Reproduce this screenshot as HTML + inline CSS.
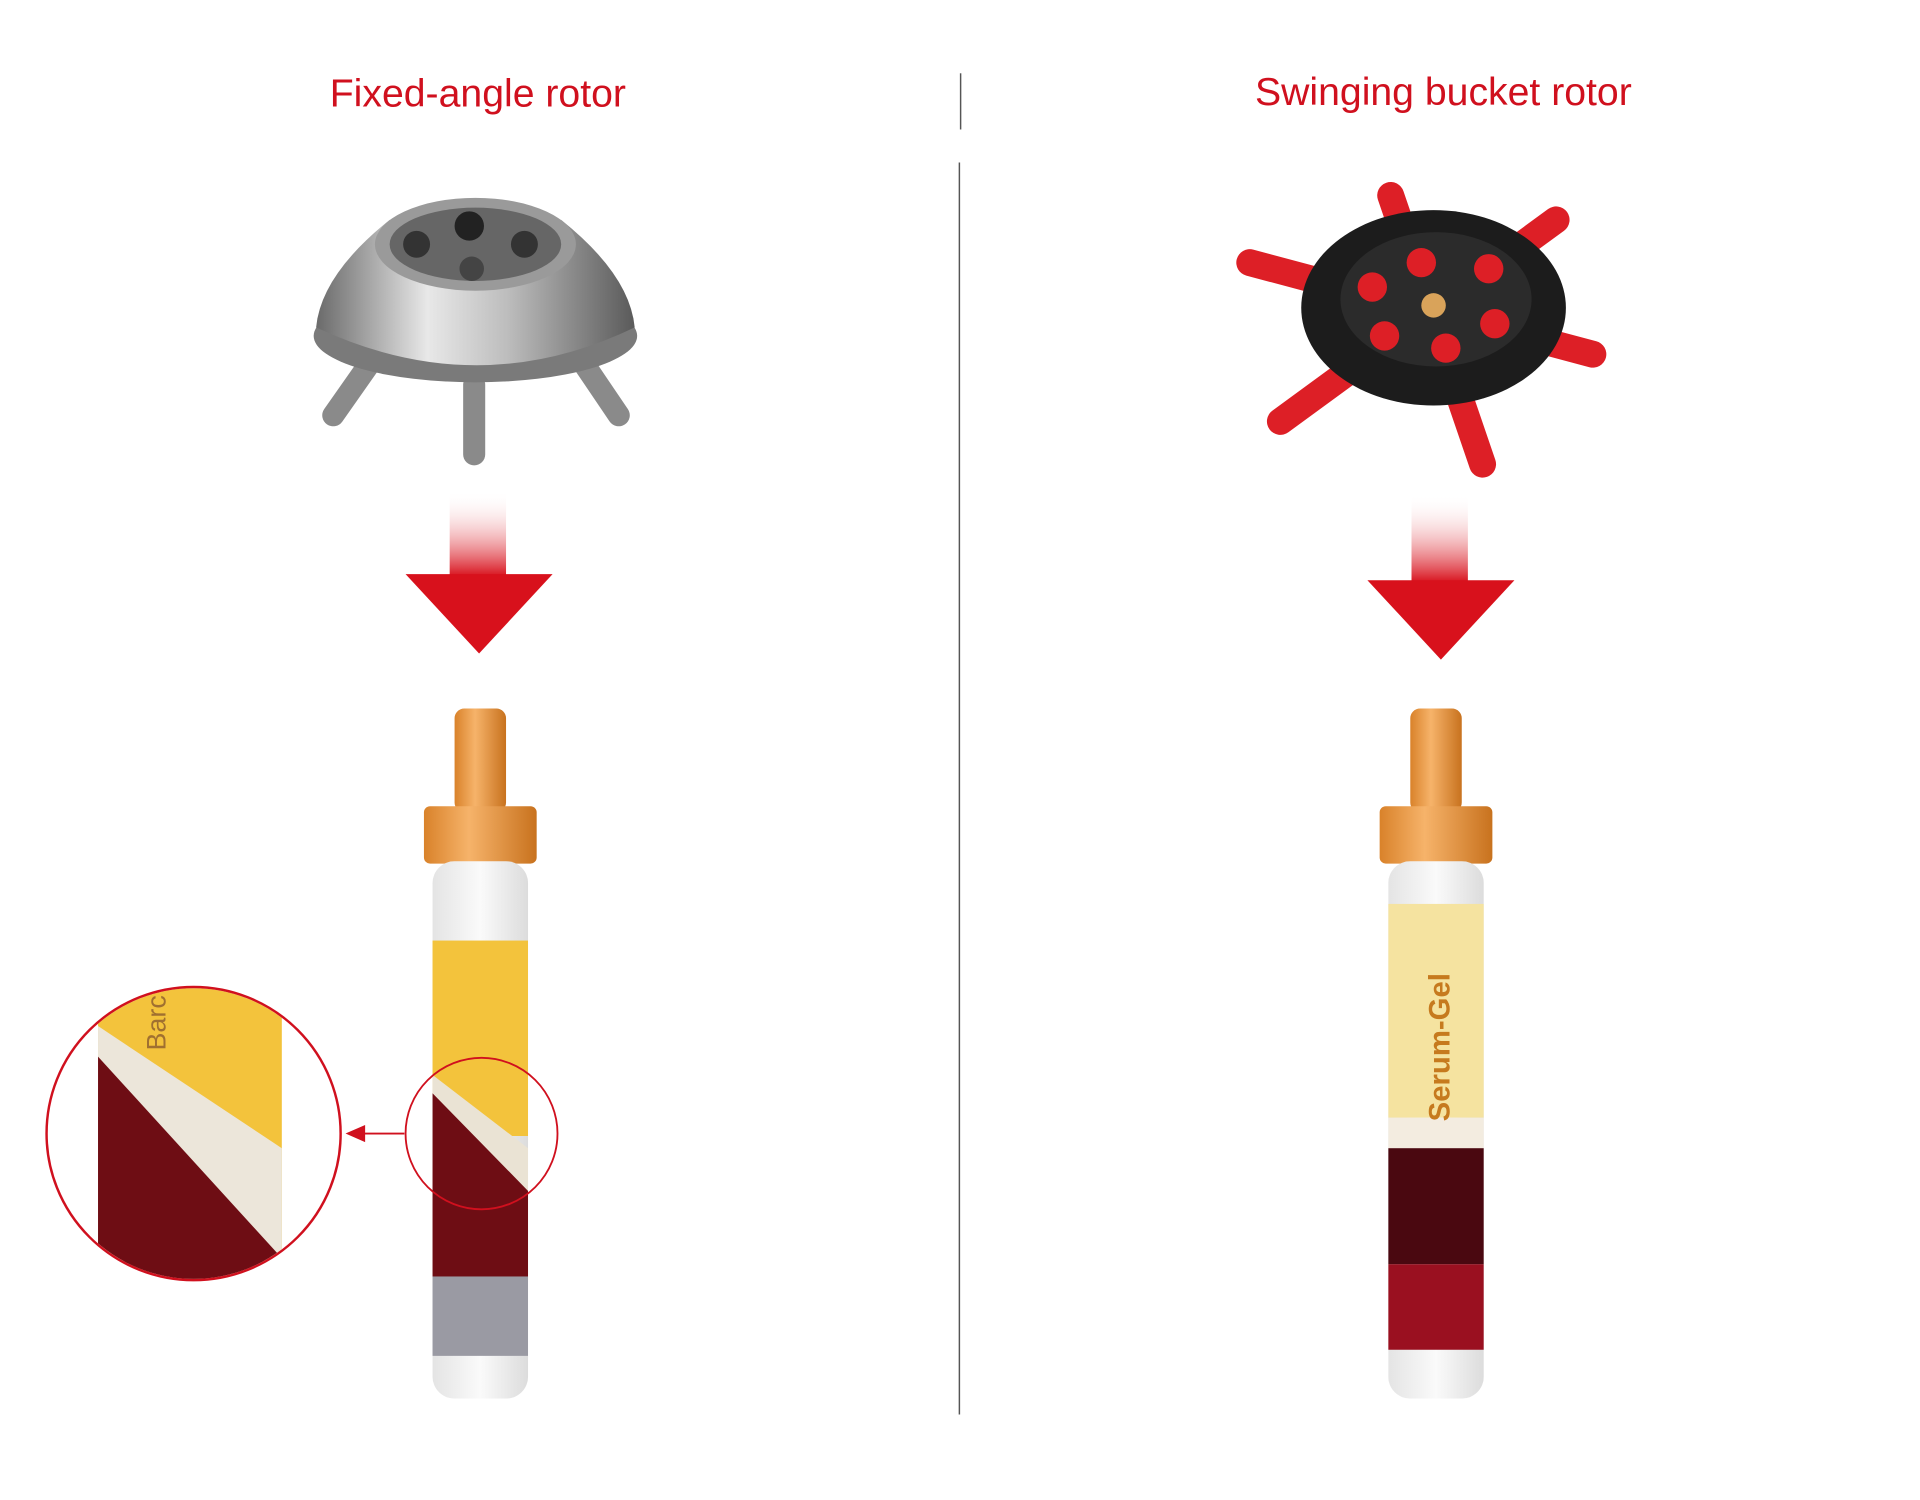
<!DOCTYPE html>
<html><head><meta charset="utf-8"><style>
html,body{margin:0;padding:0;background:#fff;width:1920px;height:1500px;overflow:hidden}
svg{display:block}
</style></head><body>
<svg width="1920" height="1500" viewBox="0 0 1567 1228" preserveAspectRatio="none" xmlns="http://www.w3.org/2000/svg">
<defs>
<linearGradient id="shaft" x1="0" y1="0" x2="0" y2="1"><stop offset="0" stop-color="#fff" stop-opacity="0"/><stop offset="1" stop-color="#d8111c"/></linearGradient>
<linearGradient id="metal" x1="0" y1="0" x2="1" y2="0"><stop offset="0" stop-color="#6a6a6a"/><stop offset=".35" stop-color="#e8e8e8"/><stop offset=".6" stop-color="#bdbdbd"/><stop offset="1" stop-color="#5a5a5a"/></linearGradient>
<linearGradient id="cap" x1="0" y1="0" x2="1" y2="0"><stop offset="0" stop-color="#d9822a"/><stop offset=".4" stop-color="#f6b36a"/><stop offset="1" stop-color="#c8721e"/></linearGradient>
<linearGradient id="glass" x1="0" y1="0" x2="1" y2="0"><stop offset="0" stop-color="#e4e4e4"/><stop offset=".5" stop-color="#fafafa"/><stop offset="1" stop-color="#dcdcdc"/></linearGradient>
<clipPath id="lt"><rect x="353" y="705" width="78" height="440" rx="18"/></clipPath>
<clipPath id="rt"><rect x="1133" y="705" width="78" height="440" rx="18"/></clipPath>
<clipPath id="mag"><circle cx="158" cy="928" r="119"/></clipPath>
</defs>
<text x="390" y="87" text-anchor="middle" font-family="Liberation Sans, sans-serif" font-size="32" fill="#d0101e">Fixed-angle rotor</text>
<text x="1178" y="86" text-anchor="middle" font-family="Liberation Sans, sans-serif" font-size="32" fill="#d0101e">Swinging bucket rotor</text>
<line x1="784" y1="60" x2="784" y2="106" stroke="#555" stroke-width="1.2"/>
<line x1="783" y1="133" x2="783" y2="1158" stroke="#555" stroke-width="1.2"/>

<!-- fixed angle rotor -->
<g>
<line x1="272" y1="340" x2="300" y2="300" stroke="#8a8a8a" stroke-width="18" stroke-linecap="round"/>
<line x1="387" y1="372" x2="387" y2="315" stroke="#8a8a8a" stroke-width="18" stroke-linecap="round"/>
<line x1="505" y1="340" x2="478" y2="300" stroke="#8a8a8a" stroke-width="18" stroke-linecap="round"/>
<ellipse cx="388" cy="275" rx="132" ry="38" fill="#7a7a7a"/>
<path d="M258,268 Q262,225 318,180 L458,180 Q514,225 518,268 Q390,330 258,268Z" fill="url(#metal)"/>
<ellipse cx="388" cy="200" rx="82" ry="38" fill="#9a9a9a"/>
<ellipse cx="388" cy="200" rx="70" ry="30" fill="#666"/>
<circle cx="383" cy="185" r="12" fill="#222"/><circle cx="340" cy="200" r="11" fill="#333"/><circle cx="428" cy="200" r="11" fill="#333"/><circle cx="385" cy="220" r="10" fill="#444"/>
</g>
<!-- right rotor -->
<g stroke-linecap="round">
<line x1="1020" y1="215" x2="1300" y2="290" stroke="#dd1f26" stroke-width="22"/>
<line x1="1135" y1="160" x2="1210" y2="380" stroke="#dd1f26" stroke-width="22"/>
<line x1="1270" y1="180" x2="1045" y2="345" stroke="#dd1f26" stroke-width="22"/>
<ellipse cx="1170" cy="252" rx="108" ry="80" fill="#1c1c1c"/>
<ellipse cx="1172" cy="245" rx="78" ry="55" fill="#2b2b2b"/>
<circle cx="1120" cy="235" r="12" fill="#dd1f26"/><circle cx="1160" cy="215" r="12" fill="#dd1f26"/><circle cx="1215" cy="220" r="12" fill="#dd1f26"/>
<circle cx="1220" cy="265" r="12" fill="#dd1f26"/><circle cx="1180" cy="285" r="12" fill="#dd1f26"/><circle cx="1130" cy="275" r="12" fill="#dd1f26"/>
<circle cx="1170" cy="250" r="10" fill="#d9a35a"/>
</g>
<!-- arrows -->
<rect x="367" y="402" width="46" height="70" fill="url(#shaft)"/>
<polygon points="331,470 451,470 391,535" fill="#d8111c"/>
<rect x="1152" y="405" width="46" height="72" fill="url(#shaft)"/>
<polygon points="1116,475 1236,475 1176,540" fill="#d8111c"/>

<!-- left tube -->
<rect x="371" y="580" width="42" height="85" rx="8" fill="url(#cap)"/>
<rect x="346" y="660" width="92" height="47" rx="5" fill="url(#cap)"/>
<g clip-path="url(#lt)">
<rect x="353" y="705" width="78" height="440" fill="url(#glass)"/>
<rect x="353" y="770" width="78" height="160" fill="#f3c33c"/>
<polygon points="353,880 431,940 431,1050 353,1050" fill="#eae3d4"/>
<polygon points="353,895 431,975 431,1045 353,1045" fill="#6e0d14"/>
<rect x="353" y="1045" width="78" height="65" fill="#9a9aa3"/>
</g>
<circle cx="393" cy="928" r="62" fill="none" stroke="#d0101e" stroke-width="1.5"/>
<line x1="330" y1="928" x2="292" y2="928" stroke="#d0101e" stroke-width="1.5"/>
<polygon points="282,928 298,921 298,935" fill="#d0101e"/>
<g clip-path="url(#mag)">
<rect x="30" y="800" width="260" height="260" fill="#fff"/>
<rect x="80" y="800" width="150" height="260" fill="#f3c33c"/>
<polygon points="80,840 230,940 230,1060 80,1060" fill="#ece6da"/>
<polygon points="80,865 230,1030 230,1060 80,1060" fill="#6e0d14"/>
<text x="135" y="860" transform="rotate(-90 135 860)" font-family="Liberation Sans, sans-serif" font-size="22" fill="#a07030">Barc</text>
</g>
<circle cx="158" cy="928" r="120" fill="none" stroke="#d0101e" stroke-width="2"/>

<!-- right tube -->
<rect x="1151" y="580" width="42" height="85" rx="8" fill="url(#cap)"/>
<rect x="1126" y="660" width="92" height="47" rx="5" fill="url(#cap)"/>
<g clip-path="url(#rt)">
<rect x="1133" y="705" width="78" height="440" fill="url(#glass)"/>
<rect x="1133" y="740" width="78" height="175" fill="#f5e3a0"/>
<rect x="1133" y="915" width="78" height="27" fill="#f3ece0"/>
<rect x="1133" y="940" width="78" height="95" fill="#4a0810"/>
<rect x="1133" y="1035" width="78" height="70" fill="#9a1020"/>
<text x="1183" y="918" transform="rotate(-90 1183 918)" font-family="Liberation Sans, sans-serif" font-size="24" font-weight="bold" fill="#c67a1e">Serum-Gel</text>
</g>
</svg>
</body></html>
